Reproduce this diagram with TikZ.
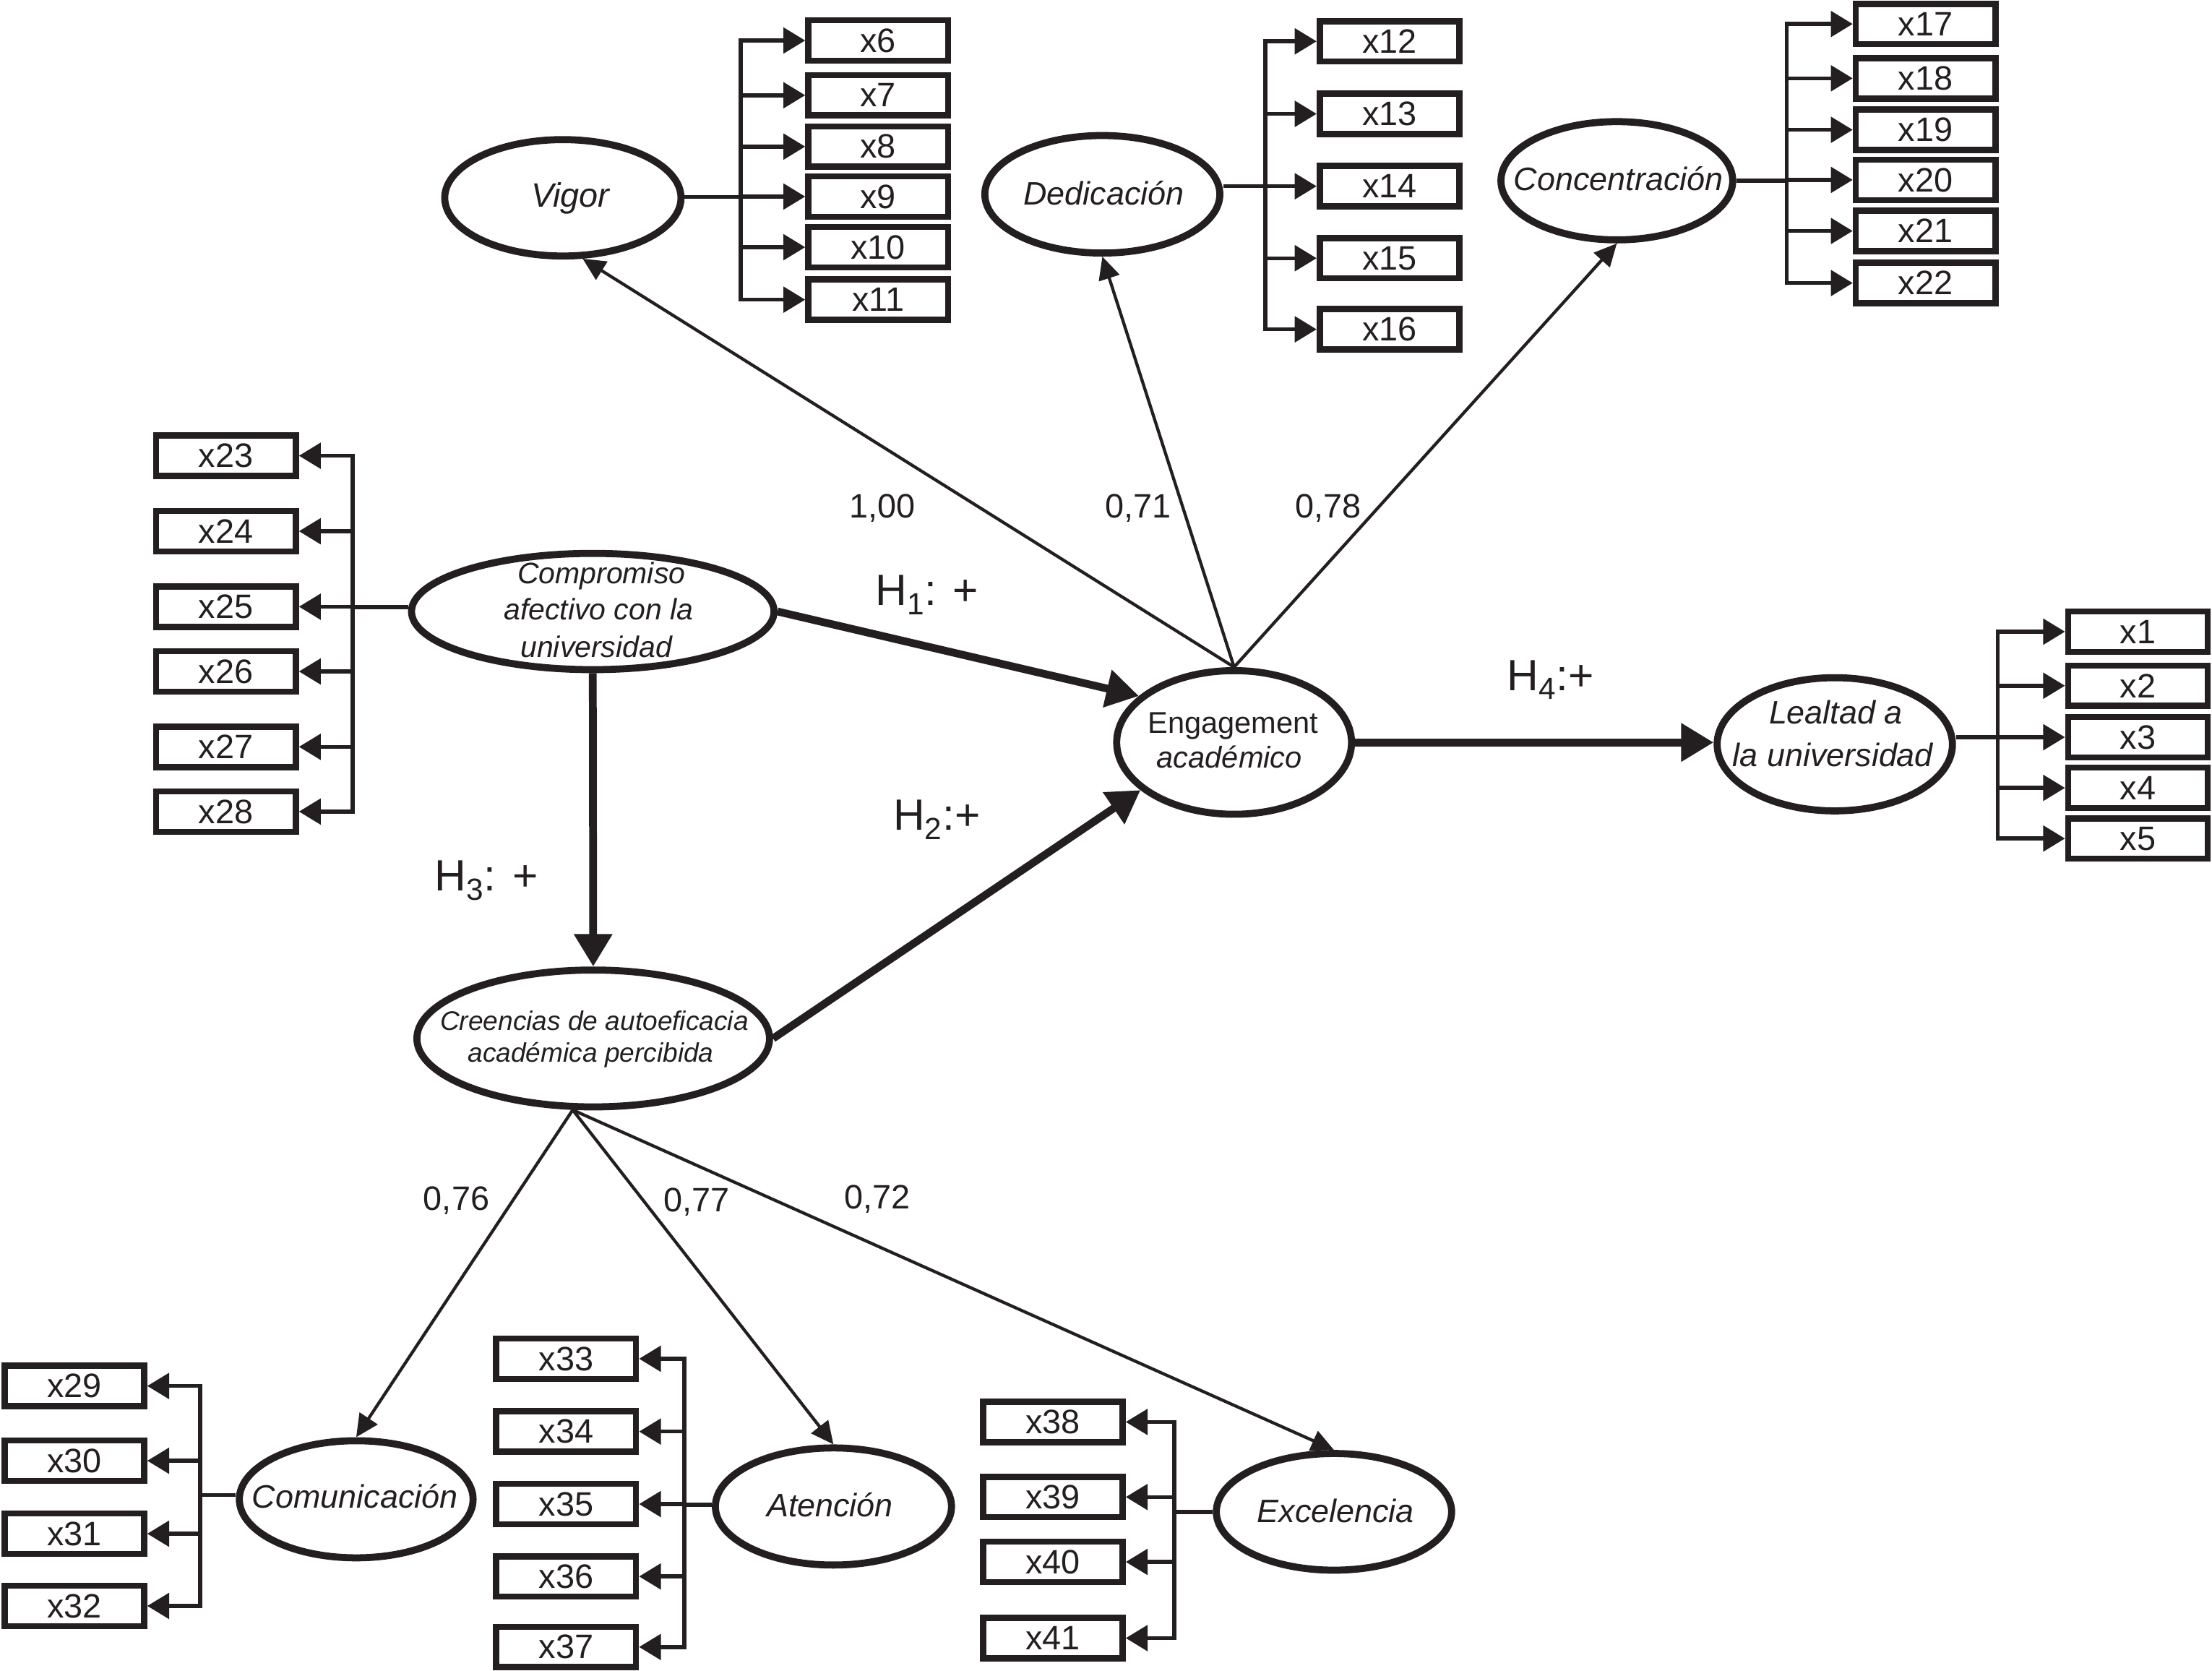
\documentclass[tikz,border=0pt]{standalone}
\usepackage{fontspec}
\setmainfont{Liberation Sans}
\usetikzlibrary{shapes.geometric,arrows.meta,calc}
\definecolor{ink}{RGB}{35,31,32}
\begin{document}
\begin{tikzpicture}[x=1pt,y=-1pt,
 box/.style={draw=ink, line width=4.4pt, minimum width=99pt, minimum height=28.6pt, inner sep=0pt, font=\fontsize{24}{28}\selectfont, text=ink},
 lat/.style={draw=ink, ellipse, line width=5pt, inner sep=0pt},
 ltxt/.style={inner sep=0pt, anchor=base, font=\fontsize{23}{28}\selectfont\itshape, text=ink},
 num/.style={inner sep=0pt, anchor=base, font=\fontsize{24}{28}\selectfont, text=ink},
 hyplab/.style={inner sep=0pt, anchor=base west, font=\fontsize{31}{36}\selectfont, text=ink},
 brk/.style={draw=ink, line width=2.8pt},
 ind/.style={brk, -{Triangle[length=15.5pt,width=18pt]}},
 load/.style={draw=ink, line width=2.2pt, -{Triangle[length=16pt,width=15pt]}},
 hyp/.style={draw=ink, line width=5.5pt, -{Triangle[length=23pt,width=26pt]}}]
\fill[white] (0,0) rectangle (1568,1184);
\useasboundingbox (0,0) rectangle (1568,1184);

% ---------- latent variables ----------
\node[lat, minimum width=167.5pt, minimum height=82.5pt] (vig) at (399,140.2) {};
\node[lat, minimum width=166.6pt, minimum height=83.3pt] (ded) at (781.4,137.7) {};
\node[lat, minimum width=164.3pt, minimum height=83.8pt] (conc) at (1146.1,128.1) {};
\node[lat, minimum width=257pt, minimum height=82.4pt] (comp) at (420.2,433.4) {};
\node[lat, minimum width=166.5pt, minimum height=101.8pt] (eng) at (874.8,526.2) {};
\node[lat, minimum width=166.8pt, minimum height=94.4pt] (leal) at (1300.6,527.5) {};
\node[lat, minimum width=250pt, minimum height=97pt] (cre) at (420.5,736) {};
\node[lat, minimum width=165.7pt, minimum height=83pt] (comm) at (252.5,1062.6) {};
\node[lat, minimum width=167.4pt, minimum height=83pt] (aten) at (590.8,1067.7) {};
\node[lat, minimum width=166.8pt, minimum height=82.7pt] (exc) at (945.6,1071.5) {};

% ---------- latent labels ----------
\node[ltxt, font=\fontsize{24}{28}\selectfont\itshape] (vigt) at (404.3,146.9) {Vigor};
\node[ltxt] (dedt) at (782.5,145.2) {Dedicación};
\node[ltxt] (conct) at (1147.3,134.9) {Concentración};
\node[ltxt, font=\fontsize{21}{26}\selectfont\itshape] (compt1) at (426.3,413.8) {Compromiso};
\node[ltxt, font=\fontsize{21}{26}\selectfont\itshape] (compt2) at (424.3,439.3) {afectivo con la};
\node[ltxt, font=\fontsize{21}{26}\selectfont\itshape] (compt3) at (422.7,465.7) {universidad};
\node[ltxt, font=\fontsize{21.3}{25}\selectfont] (engt1) at (874,519.8) {Engagement};
\node[ltxt, font=\fontsize{21.3}{25}\selectfont\itshape] (engt2) at (871.5,544.5) {académico};
\node[ltxt] (lealt1) at (1301.3,513.2) {Lealtad a};
\node[ltxt] (lealt2) at (1299.3,543) {la universidad};
\node[ltxt, font=\fontsize{19}{23}\selectfont\itshape] (cret1) at (421.3,730.2) {Creencias de autoeficacia};
\node[ltxt, font=\fontsize{19}{23}\selectfont\itshape] (cret2) at (418.8,752.7) {académica percibida};
\node[ltxt] (commt) at (251.6,1069) {Comunicación};
\node[ltxt] (atent) at (588.3,1075) {Atención};
\node[ltxt] (exct) at (946.8,1079.2) {Excelencia};

% ---------- indicators ----------
\foreach \n/\y in {6/28.7,7/67.5,8/103.9,9/139.3,10/175.2,11/212.4}
  \node[box] (x\n) at (622.5,\y) {x\n};
\foreach \n/\y in {12/29.3,13/80.7,14/132,15/183,16/233.4}
  \node[box] (x\n) at (985,\y) {x\n};
\foreach \n/\y in {17/17,18/55.5,19/92,20/127.5,21/163.7,22/200.6}
  \node[box] (x\n) at (1365,\y) {x\n};
\foreach \n/\y in {23/323,24/376.5,25/430,26/475.9,27/529.3,28/575.2}
  \node[box] (x\n) at (160.2,\y) {x\n};
\foreach \n/\y in {1/447.7,2/486,3/522.5,4/558.4,5/594.3}
  \node[box] (x\n) at (1515.5,\y) {x\n};
\foreach \n/\y in {29/982.3,30/1035.3,31/1087,32/1138.2}
  \node[box] (x\n) at (52.7,\y) {x\n};
\foreach \n/\y in {33/963,34/1014.6,35/1066,36/1117.3,37/1167.3}
  \node[box] (x\n) at (401.3,\y) {x\n};
\foreach \n/\y in {38/1007.8,39/1061,40/1107,41/1161}
  \node[box] (x\n) at (746.3,\y) {x\n};

% ---------- brackets ----------
\coordinate (vb) at (525,139.5);
\coordinate (db) at (897,132);
\coordinate (cb) at (1266.5,128);
\coordinate (pb) at (250,430.4);
\coordinate (lb) at (1416.2,522.5);
\coordinate (mb) at (142,1059.6);
\coordinate (ab) at (485.2,1066.5);
\coordinate (eb) at (832.4,1071.6);

\draw[brk] (vig.east |- vb) -- (vb);
\draw[brk, line cap=rect] (x6.west -| vb) -- (x11.west -| vb);
\foreach \n in {6,7,8,9,10,11} \draw[ind] (x\n.west -| vb) -- (x\n.west);

\draw[brk] (ded.east |- db) -- (db);
\draw[brk, line cap=rect] (x12.west -| db) -- (x16.west -| db);
\foreach \n in {12,13,14,15,16} \draw[ind] (x\n.west -| db) -- (x\n.west);

\draw[brk] (conc.east |- cb) -- (cb);
\draw[brk, line cap=rect] (x17.west -| cb) -- (x22.west -| cb);
\foreach \n in {17,18,19,20,21,22} \draw[ind] (x\n.west -| cb) -- (x\n.west);

\draw[brk] (leal.east |- lb) -- (lb);
\draw[brk, line cap=rect] (x1.west -| lb) -- (x5.west -| lb);
\foreach \n in {1,2,3,4,5} \draw[ind] (x\n.west -| lb) -- (x\n.west);

\draw[brk] (comp.west |- pb) -- (pb);
\draw[brk, line cap=rect] (x23.east -| pb) -- (x28.east -| pb);
\foreach \n in {23,24,25,26,27,28} \draw[ind] (x\n.east -| pb) -- (x\n.east);

\draw[brk] (comm.west |- mb) -- (mb);
\draw[brk, line cap=rect] (x29.east -| mb) -- (x32.east -| mb);
\foreach \n in {29,30,31,32} \draw[ind] (x\n.east -| mb) -- (x\n.east);

\draw[brk] (aten.west |- ab) -- (ab);
\draw[brk, line cap=rect] (x33.east -| ab) -- (x37.east -| ab);
\foreach \n in {33,34,35,36,37} \draw[ind] (x\n.east -| ab) -- (x\n.east);

\draw[brk] (exc.west |- eb) -- (eb);
\draw[brk, line cap=rect] (x38.east -| eb) -- (x41.east -| eb);
\foreach \n in {38,39,40,41} \draw[ind] (x\n.east -| eb) -- (x\n.east);

% ---------- second-order loadings ----------
\draw[load] (eng.north) -- (vig.288);
\draw[load] (eng.north) -- (ded.south);
\draw[load] (eng.north) -- (conc.south);
\draw[load] (cre.254) -- (comm.north);
\draw[load] (cre.254) -- (aten.north);
\draw[load] (cre.254) -- (exc.north);

\node[num] (l1) at (625.6,367) {1,00};
\node[num] (l2) at (807,367) {0,71};
\node[num] (l3) at (941.7,367) {0,78};
\node[num] (l4) at (323.5,857.6) {0,76};
\node[num] (l5) at (494,858.6) {0,77};
\node[num] (l6) at (621.7,856.6) {0,72};

% ---------- hypotheses ----------
\draw[hyp] (comp.east) -- (eng.154);
\draw[hyp] (cre.east) -- (eng.207);
\draw[hyp] (comp.south) -- (cre.north);
\draw[hyp] (eng.east) -- (eng.east -| leal.west);

\node[hyplab] (h1) at (620.3,429.2) {H\textsubscript{1}: +};
\node[hyplab] (h2) at (633,588.4) {H\textsubscript{2}:+};
\node[hyplab] (h3) at (308,631.2) {H\textsubscript{3}: +};
\node[hyplab] (h4) at (1068,489.2) {H\textsubscript{4}:+};
\end{tikzpicture}
\end{document}
